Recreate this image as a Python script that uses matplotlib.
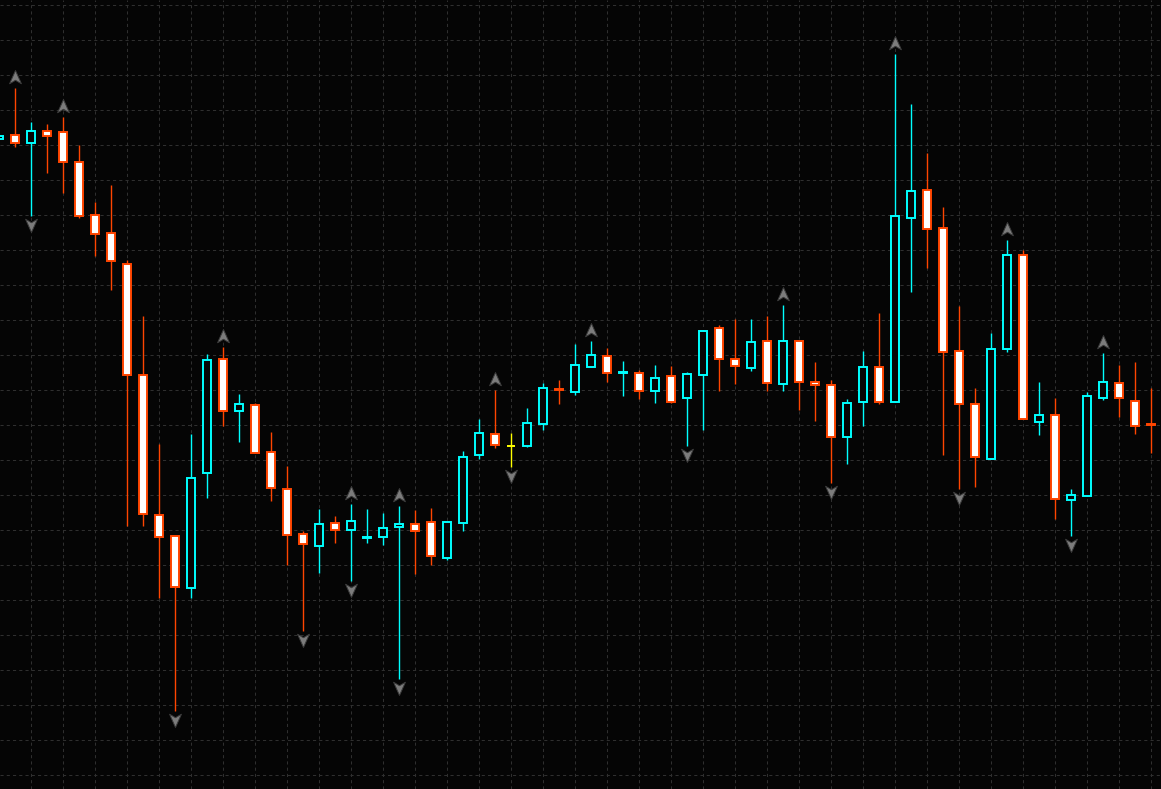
import matplotlib
matplotlib.use("Agg")
import matplotlib.pyplot as plt
from matplotlib.patches import Rectangle
from matplotlib.path import Path
from matplotlib import transforms

# OHLC (one bar per column, oldest first)
opens = [1.1861, 1.1865, 1.1857, 1.1869, 1.1868, 1.1838, 1.1785, 1.1767, 1.1736, 1.1625,
         1.1485, 1.1464, 1.1412, 1.1527, 1.1641, 1.1589, 1.1595, 1.1548, 1.1511, 1.1466,
         1.1454, 1.1477, 1.1470, 1.1462, 1.1463, 1.1473, 1.1476, 1.1478, 1.1442, 1.1477,
         1.1545, 1.1566, 1.1554, 1.1554, 1.1576, 1.1611, 1.1608, 1.1633, 1.1644, 1.1627,
         1.1627, 1.1609, 1.1624, 1.1602, 1.1625, 1.1672, 1.1641, 1.1632, 1.1659, 1.1616,
         1.1659, 1.1618, 1.1615, 1.1563, 1.1598, 1.1633, 1.1598, 1.1782, 1.1810, 1.1772,
         1.1649, 1.1596, 1.1541, 1.1651, 1.1745, 1.1578, 1.1585, 1.1500, 1.1504, 1.1602,
         1.1617, 1.1599, 1.1576]
highs = [1.1864, 1.1912, 1.1878, 1.1876, 1.1883, 1.1855, 1.1798, 1.1815, 1.1740, 1.1684,
         1.1556, 1.1464, 1.1566, 1.1646, 1.1653, 1.1606, 1.1597, 1.1568, 1.1534, 1.1469,
         1.1491, 1.1484, 1.1496, 1.1491, 1.1487, 1.1494, 1.1490, 1.1492, 1.1478, 1.1549,
         1.1581, 1.1610, 1.1567, 1.1592, 1.1617, 1.1620, 1.1656, 1.1659, 1.1652, 1.1639,
         1.1630, 1.1635, 1.1634, 1.1628, 1.1670, 1.1675, 1.1681, 1.1681, 1.1684, 1.1695,
         1.1659, 1.1638, 1.1620, 1.1601, 1.1649, 1.1687, 1.1946, 1.1896, 1.1847, 1.1793,
         1.1694, 1.1612, 1.1667, 1.1760, 1.1750, 1.1618, 1.1602, 1.1511, 1.1608, 1.1647,
         1.1635, 1.1638, 1.1612]
lows = [1.1861, 1.1853, 1.1784, 1.1827, 1.1807, 1.1782, 1.1744, 1.1710, 1.1474, 1.1474,
        1.1402, 1.1289, 1.1402, 1.1502, 1.1574, 1.1558, 1.1547, 1.1499, 1.1435, 1.1369,
        1.1427, 1.1457, 1.1419, 1.1457, 1.1455, 1.1321, 1.1426, 1.1435, 1.1440, 1.1469,
        1.1541, 1.1552, 1.1533, 1.1553, 1.1570, 1.1596, 1.1605, 1.1633, 1.1618, 1.1604,
        1.1601, 1.1597, 1.1597, 1.1554, 1.1570, 1.1609, 1.1616, 1.1629, 1.1609, 1.1609,
        1.1590, 1.1579, 1.1517, 1.1536, 1.1574, 1.1596, 1.1598, 1.1708, 1.1732, 1.1545,
        1.1511, 1.1513, 1.1541, 1.1648, 1.1581, 1.1565, 1.1481, 1.1464, 1.1504, 1.1600,
        1.1583, 1.1566, 1.1547]
closes = [1.1864, 1.1857, 1.1869, 1.1864, 1.1838, 1.1784, 1.1766, 1.1739, 1.1625, 1.1486,
          1.1463, 1.1413, 1.1522, 1.1640, 1.1589, 1.1596, 1.1547, 1.1512, 1.1465, 1.1456,
          1.1476, 1.1470, 1.1479, 1.1463, 1.1472, 1.1476, 1.1469, 1.1444, 1.1478, 1.1543,
          1.1567, 1.1555, 1.1554, 1.1577, 1.1612, 1.1610, 1.1635, 1.1645, 1.1627, 1.1628,
          1.1609, 1.1622, 1.1598, 1.1626, 1.1669, 1.1641, 1.1634, 1.1658, 1.1617, 1.1659,
          1.1618, 1.1615, 1.1563, 1.1597, 1.1633, 1.1598, 1.1784, 1.1809, 1.1771, 1.1648,
          1.1596, 1.1543, 1.1651, 1.1745, 1.1581, 1.1585, 1.1501, 1.1505, 1.1604, 1.1618,
          1.1602, 1.1574, 1.1575]

# bill williams fractals shown on the chart (bar indices)
up_fractals = [1, 4, 14, 22, 25, 31, 37, 49, 56, 63, 69]
down_fractals = [2, 11, 19, 22, 25, 32, 43, 52, 60, 67]

BG = "#050505"
BULL = "#00ffff"
BEAR = "#ff4500"
DOJI = "#ffff00"
GRID = "#2f2f2f"

fig = plt.figure(figsize=(11.61, 7.89), dpi=100, facecolor=BG)
ax = fig.add_axes([0, 0, 1, 1], facecolor=BG)

W = 0.52
for i in range(len(opens)):
    o, h, l, c = opens[i], highs[i], lows[i], closes[i]
    if c > o:
        col, fill = BULL, BG
    elif c < o:
        col, fill = BEAR, "white"
    else:
        col, fill = DOJI, BG
    ax.vlines(i, l, h, color=col, lw=1.0, zorder=2)
    ax.add_patch(Rectangle((i - W / 2, min(o, c)), W, abs(c - o),
                           facecolor=fill, edgecolor=col, lw=1.4, zorder=3))

# fractal arrows
arrow_up = Path([(0, 1), (0.85, -0.9), (0, -0.4), (-0.85, -0.9), (0, 1)],
                [Path.MOVETO, Path.LINETO, Path.LINETO, Path.LINETO, Path.CLOSEPOLY])
arrow_dn = Path([(0, -1), (0.85, 0.9), (0, 0.4), (-0.85, 0.9), (0, -1)],
                [Path.MOVETO, Path.LINETO, Path.LINETO, Path.LINETO, Path.CLOSEPOLY])
tr_up = transforms.offset_copy(ax.transData, fig=fig, y=7.7, units="points")
tr_dn = transforms.offset_copy(ax.transData, fig=fig, y=-6.8, units="points")
ax.plot(up_fractals, [highs[i] for i in up_fractals], ls="none", marker=arrow_up,
        ms=10, mfc="#7c7c7c", mec="#3c3c3c", mew=0.7, transform=tr_up, zorder=4)
ax.plot(down_fractals, [lows[i] for i in down_fractals], ls="none", marker=arrow_dn,
        ms=10, mfc="#7c7c7c", mec="#3c3c3c", mew=0.7, transform=tr_dn, zorder=4)

ax.set_xlim(0.0625, 72.625)
ax.set_ylim(1.1211, 1.2000)
ax.set_xticks(range(2, 73, 2))
ax.set_yticks([1.1995 - 0.0035 * k for k in range(23)])
ax.grid(True, color=GRID, lw=0.75, linestyle=(0, (3, 3)))
ax.set_axisbelow(True)
ax.tick_params(length=0, labelbottom=False, labelleft=False)
for s in ax.spines.values():
    s.set_visible(False)

fig.savefig("out.png", dpi=100, facecolor=BG)
